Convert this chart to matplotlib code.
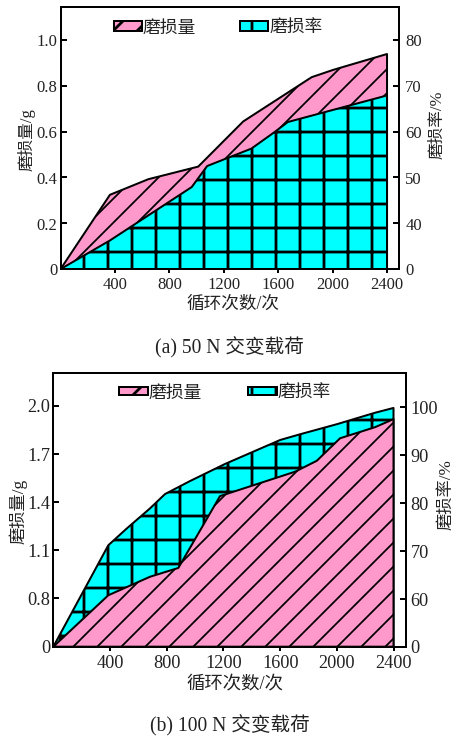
import numpy as np
import matplotlib.pyplot as plt

plt.rcParams['font.family'] = ['Liberation Serif', 'Noto Sans CJK SC']
plt.rcParams['hatch.linewidth'] = 1.4

# (a) 50 N
a_x_wear = [0, 363, 645, 1012, 1343, 1846, 2005, 2400]
a_wear = [0, 0.324, 0.392, 0.447, 0.644, 0.837, 0.869, 0.938]
a_x_rate = [0, 363, 964, 1078, 1403, 1573, 1671, 2400]
a_rate = [0, 25, 47.9, 52.5, 56.3, 59.9, 62.1, 67.9]

# (b) 100 N
b_x_wear = [0, 388, 682, 882, 1176, 1706, 1859, 2023, 2270, 2400]
b_wear = [0, 0.82, 0.935, 0.99, 1.437, 1.589, 1.657, 1.797, 1.866, 1.916]
b_x_rate = [0, 388, 518, 682, 788, 963, 1212, 1600, 1741, 2000, 2270, 2400]
b_rate = [0, 71.2, 74.7, 78.9, 81.9, 84.6, 88.2, 93.2, 94.4, 96.5, 98.9, 99.9]

x_ticks = [400, 800, 1200, 1600, 2000, 2400]
a_left_ticks = [0, 0.2, 0.4, 0.6, 0.8, 1.0]
a_left_labels = ['0', '0.2', '0.4', '0.6', '0.8', '1.0']
a_right_ticks = [0, 40, 50, 60, 70, 80]
b_left_ticks = [0, 0.8, 1.1, 1.4, 1.7, 2.0]
b_left_labels = ['0', '0.8', '1.1', '1.4', '1.7', '2.0']
b_right_ticks = [0, 60, 70, 80, 90, 100]

PINK = '#ff99cc'
CYAN = '#00ffff'
TXT = '#222222'


def broken(brk, pos):
    # squeeze values below brk into the span [pos, brk]
    k = (brk - pos) / brk
    fwd = lambda v: np.where(np.asarray(v) < brk, pos + np.asarray(v) * k, v)
    inv = lambda u: np.where(np.asarray(u) < brk, (np.asarray(u) - pos) / k, u)
    return fwd, inv


def hatch_lw(coll, lw):
    if hasattr(coll, 'set_hatch_linewidth'):
        coll.set_hatch_linewidth(lw)


def style(ax, fs):
    for s in ax.spines.values():
        s.set_linewidth(1.0)
        s.set_color('black')
    ax.tick_params(axis='y', direction='in', length=3, width=1, pad=1.5,
                   labelsize=fs, labelcolor=TXT)
    ax.tick_params(axis='x', direction='out', length=2, width=1, pad=2,
                   labelsize=fs, labelcolor=TXT)


fig = plt.figure(figsize=(457.3 / 144, 738.3 / 144), dpi=144)

# ---------- (a) ----------
ax = fig.add_axes([0.1324, 0.6351, 0.7407, 0.3550])
ax2 = ax.twinx()
p1 = ax.fill_between(a_x_wear, a_wear, 0, facecolor=PINK, edgecolor='black',
                     linewidth=1.0, hatch='//', label='磨损量')
hatch_lw(p1, 0.9)
p2 = ax2.fill_between(a_x_rate, a_rate, 0, facecolor=CYAN, edgecolor='black',
                      linewidth=1.0, hatch='+', label='磨损率')
hatch_lw(p2, 1.4)
ax.set_xlim(0, 2490)
ax.set_ylim(0, 1.143)
ax2.set_yscale('function', functions=broken(40, 30))
ax2.set_ylim(0, 87.2)
ax.set_xticks(x_ticks, [str(t) for t in x_ticks])
ax.set_yticks(a_left_ticks, a_left_labels)
ax2.set_yticks(a_right_ticks, [str(t) for t in a_right_ticks])
ax2.yaxis.set_minor_locator(plt.NullLocator())
style(ax, 8.3)
style(ax2, 8.3)
ax2.tick_params(axis='y', pad=3)
ax2.legend([p1, p2], ['磨损量', '磨损率'], loc='center', bbox_to_anchor=(0.465, 0.92),
           ncol=2, frameon=False, fontsize=8.9, handlelength=1.57, handleheight=0.45,
           handletextpad=0.05, columnspacing=2.5, borderpad=0, labelcolor=TXT)
fig.text(233 / 457, 1 - 304 / 738, '循环次数/次', ha='center', va='center', fontsize=8.8, color=TXT)
fig.text(27 / 457, 1 - 140 / 738, '磨损量/g', ha='center', va='center', rotation=90, fontsize=8.3, color=TXT)
fig.text(437.5 / 457, 1 - 125 / 738, '磨损率/%', ha='center', va='center', rotation=90, fontsize=8.3, color=TXT)
fig.text(229 / 457, 1 - 348 / 738, '(a) 50 N 交变载荷', ha='center', va='center', fontsize=9.8, color=TXT)

# ---------- (b) ----------
bx = fig.add_axes([0.1166, 0.1237, 0.7718, 0.3713])
bx2 = bx.twinx()
q2 = bx2.fill_between(b_x_rate, b_rate, 0, facecolor=CYAN, edgecolor='black',
                      linewidth=1.0, hatch='+', label='磨损率')
hatch_lw(q2, 1.4)
q1 = bx.fill_between(b_x_wear, b_wear, 0, facecolor=PINK, edgecolor='black',
                     linewidth=1.0, hatch='//', label='磨损量')
hatch_lw(q1, 0.9)
bx.set_zorder(bx2.get_zorder() + 1)
bx.patch.set_visible(False)
bx.set_xlim(0, 2490)
bx.set_yscale('function', functions=broken(0.8, 0.5))
bx.set_ylim(0, 2.206)
bx2.set_yscale('function', functions=broken(60, 50))
bx2.set_ylim(0, 107.3)
bx.set_xticks(x_ticks, [str(t) for t in x_ticks])
bx.set_yticks(b_left_ticks, b_left_labels)
bx2.set_yticks(b_right_ticks, [str(t) for t in b_right_ticks])
bx.yaxis.set_minor_locator(plt.NullLocator())
bx2.yaxis.set_minor_locator(plt.NullLocator())
style(bx, 9.1)
style(bx2, 9.1)
bx2.tick_params(axis='y', pad=2)
bx.legend([q1, q2], ['磨损量', '磨损率'], loc='center', bbox_to_anchor=(0.487, 0.925),
          ncol=2, frameon=False, fontsize=8.9, handlelength=1.6, handleheight=0.35,
          handletextpad=0.05, columnspacing=2.6, borderpad=0, labelcolor=TXT)
fig.text(235 / 457, 1 - 684 / 738, '循环次数/次', ha='center', va='center', fontsize=9.2, color=TXT)
fig.text(18 / 457, 1 - 511 / 738, '磨损量/g', ha='center', va='center', rotation=90, fontsize=8.6, color=TXT)
fig.text(445.7 / 457, 1 - 494 / 738, '磨损率/%', ha='center', va='center', rotation=90, fontsize=8.6, color=TXT)
fig.text(230 / 457, 1 - 725.7 / 738, '(b) 100 N 交变载荷', ha='center', va='center', fontsize=9.8, color=TXT)

fig.savefig('out.png', dpi=144)
